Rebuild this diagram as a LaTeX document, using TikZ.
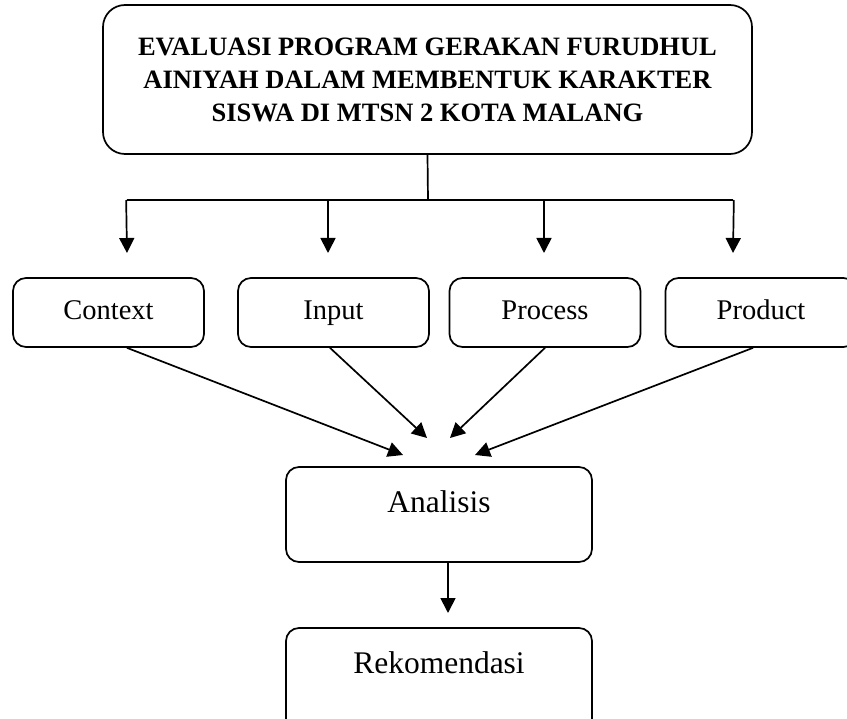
\documentclass[tikz,border=0pt]{standalone}
\usepackage{fontspec}
\setmainfont{Liberation Serif}
\usetikzlibrary{arrows.meta}
\begin{document}
\begin{tikzpicture}[x=1pt,y=-1pt,
  box/.style={draw,line width=1.7pt,rounded corners=13pt,inner sep=0pt},
  arr/.style={line width=1.7pt,-{Triangle[length=15pt,width=15pt]}},
  conn/.style={line width=1.7pt},
  rowfont/.style={font=\fontsize{28.5}{34}\selectfont,text height=18.9pt,text depth=0pt},
  lowfont/.style={font=\fontsize{31.5}{38}\selectfont,text height=20.9pt,text depth=0pt}]
\useasboundingbox (0,0) rectangle (847,719);
\clip (0,0) rectangle (847,719);
% title
\node[box,rounded corners=22pt,minimum width=649pt,minimum height=149pt,align=center,
  font=\fontsize{26.5}{33}\selectfont\bfseries] (title) at (427.5,79.5)
  {\raisebox{9pt}{\parbox{640pt}{\centering EVALUASI PROGRAM GERAKAN FURUDHUL\\AINIYAH DALAM MEMBENTUK KARAKTER\\SISWA DI MTSN 2 KOTA MALANG}}};
% row
\node[box,rowfont,minimum width=191pt,minimum height=69pt] (ctx) at (108.5,312.5) {\raisebox{2.5pt}{Context}};
\node[box,rowfont,minimum width=191pt,minimum height=69pt] (inp) at (333.5,312.5) {\raisebox{2.5pt}{Input}};
\node[box,rowfont,minimum width=191pt,minimum height=69pt] (pro) at (545,312.5) {\raisebox{2.5pt}{Process}};
\node[box,rowfont,minimum width=191pt,minimum height=69pt] (prd) at (761,312.5) {\raisebox{2.5pt}{Product}};
% lower
\node[box,lowfont,minimum width=306pt,minimum height=95pt] (ana) at (439,514.5) {\raisebox{12.5pt}{Analisis}};
\node[box,lowfont,minimum width=306pt,minimum height=110pt] (rek) at (439,683) {\raisebox{20pt}{Rekomendasi}};
% fork
\coordinate (fork) at (428,200);
\coordinate (fl) at (127,200);
\coordinate (fr) at (733,200);
\coordinate (f2) at (328,200);
\coordinate (f3) at (544,200);
\coordinate (t1) at (127,253);
\coordinate (t2) at (328,253);
\coordinate (t3) at (544,253);
\coordinate (t4) at (733,253);
\draw[conn] (title.south) -- (fork);
\draw[conn] (fl) -- (fr);
\draw[arr] ([xshift=-0.85pt]fl) -- (t1);
\draw[arr] (f2) -- (t2);
\draw[arr] (f3) -- (t3);
\draw[arr] ([xshift=0.85pt]fr) -- (t4);
% converging
\coordinate (c1) at (403,455);
\coordinate (c2) at (427,438);
\coordinate (c3) at (450,438);
\coordinate (c4) at (475,455);
\draw[arr] ([xshift=18.5pt]ctx.south) -- (c1);
\draw[arr] ([xshift=-3.5pt]inp.south) -- (c2);
\draw[arr] (pro.south) -- (c3);
\draw[arr] ([xshift=-8pt]prd.south) -- (c4);
% down
\coordinate (d) at (448,613);
\draw[arr] ([xshift=9pt]ana.south) -- (d);
\end{tikzpicture}
\end{document}
